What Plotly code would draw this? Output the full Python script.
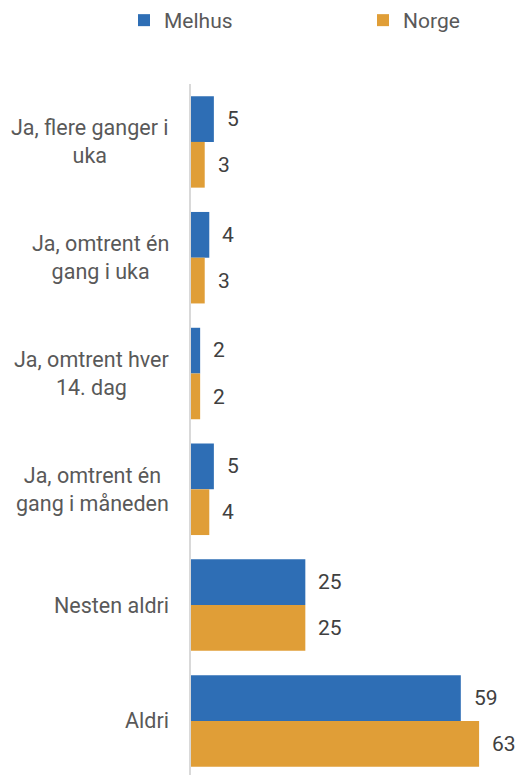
import plotly.graph_objects as go

# Survey answer categories (top to bottom) and shares in percent
categories = [
    "Ja, flere ganger i<br>uka",
    "Ja, omtrent én<br>gang i uka",
    "Ja, omtrent hver<br>14. dag",
    "Ja, omtrent én<br>gang i måneden",
    "Nesten aldri",
    "Aldri",
]
melhus = [5, 4, 2, 5, 25, 59]
norge = [3, 3, 2, 4, 25, 63]

series_names = ["Melhus", "Norge"]
colors = ["#2E6EB5", "#E09E37"]

FONT = "Roboto"
LABEL_COLOR = "#595959"
VALUE_COLOR = "#404040"

W, H = 523, 775

fig = go.Figure()
for name, vals, col, leg in zip(series_names, [melhus, norge], colors, ["legend", "legend2"]):
    fig.add_trace(go.Bar(
        y=list(range(len(categories))),
        x=vals,
        name=name,
        orientation="h",
        marker=dict(color=col, line=dict(width=0)),
        hoverinfo="skip",
        legend=leg,
    ))

annotations = []
# value labels just right of each bar
offsets = [-0.2, 0.2]
for vals, off in zip([melhus, norge], offsets):
    for i, v in enumerate(vals):
        annotations.append(dict(
            x=v, y=i + off, xref="x", yref="y", text=str(v),
            showarrow=False, xanchor="left", yanchor="middle", xshift=11,
            font=dict(family=FONT, size=21, color=VALUE_COLOR),
        ))

# category labels: block right-aligned left of the axis, lines centered
for i, cat in enumerate(categories):
    annotations.append(dict(
        x=0, y=i, xref="paper", yref="y", text=cat,
        showarrow=False, xanchor="right", yanchor="middle", align="center",
        xshift=-20,
        font=dict(family=FONT, size=21.5, color=LABEL_COLOR),
    ))

legend_style = dict(
    orientation="h", y=1.0, yref="container", xref="container",
    xanchor="left", yanchor="top",
    font=dict(family=FONT, size=21, color=LABEL_COLOR),
    itemclick=False, itemdoubleclick=False,
)

fig.update_layout(
    width=W, height=H,
    margin=dict(l=191, r=0, t=84, b=0),
    paper_bgcolor="white", plot_bgcolor="white",
    barmode="group", bargap=0.21, bargroupgap=0,
    showlegend=True,
    legend=dict(x=124 / W, **legend_style),
    legend2=dict(x=363 / W, **legend_style),
    xaxis=dict(range=[0, 72.6], visible=False, fixedrange=True),
    yaxis=dict(
        range=[5.467, -0.5], showticklabels=False, showgrid=False, zeroline=False,
        showline=True, linecolor="#D9D9D9", linewidth=2, ticks="", fixedrange=True,
    ),
    annotations=annotations,
)

fig.write_html("out.html")
